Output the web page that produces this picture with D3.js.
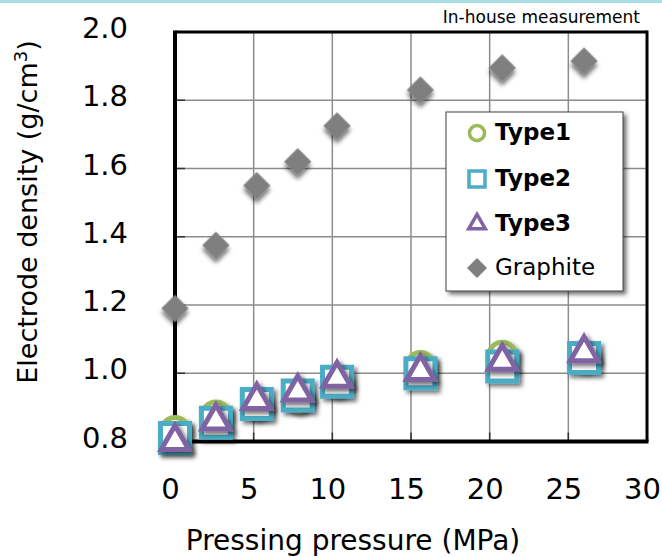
<!DOCTYPE html>
<html>
<head>
<meta charset="utf-8">
<script src="https://cdn.jsdelivr.net/npm/d3@7"></script>
<style>
  body { margin: 0; background: #fff; }
  svg { display: block; font-family: "DejaVu Sans", Verdana, sans-serif; }
</style>
</head>
<body>
<div id="chart"></div>
<script>
// pressing pressure (MPa) and electrode density (g/cm3)
const pressure = [0, 2.6, 5.2, 7.8, 10.3, 15.6, 20.8, 26.0];
const graphite = [1.19, 1.375, 1.55, 1.62, 1.725, 1.83, 1.895, 1.915];
const type1 = [0.83, 0.875, 0.91, 0.93, 0.975, 1.02, 1.05, 1.05];
const type2 = [0.81, 0.855, 0.91, 0.935, 0.975, 1.0, 1.02, 1.045];
const type3 = [0.80, 0.86, 0.92, 0.945, 0.985, 1.005, 1.035, 1.06];

const xTicks = [0, 5, 10, 15, 20, 25, 30];
const yTicks = [0.8, 1.0, 1.2, 1.4, 1.6, 1.8, 2.0];
const legendNames = ["Type1", "Type2", "Type3", "Graphite"];

const width = 662, height = 557;
const margin = { top: 32, right: 15, bottom: 115.5, left: 175 };

const svg = d3.select("#chart").append("svg")
  .attr("width", width)
  .attr("height", height);

// drop shadow for markers and legend
const defs = svg.append("defs");
const shadow = defs.append("filter").attr("id", "shadow")
  .attr("x", "-50%").attr("y", "-50%").attr("width", "200%").attr("height", "200%");
shadow.append("feDropShadow")
  .attr("dx", 3).attr("dy", 3).attr("stdDeviation", 2.2)
  .attr("flood-color", "#000").attr("flood-opacity", 0.55);

// thin teal strip at the very top
svg.append("rect")
  .attr("x", 0).attr("y", 0).attr("width", width).attr("height", 3)
  .attr("fill", "#a8dfe0");

const x = d3.scaleLinear().domain([0, 30]).range([margin.left, width - margin.right]);
const y = d3.scaleLinear().domain([0.8, 2.0]).range([height - margin.bottom, margin.top]);

// grid
const grid = svg.append("g");
grid.selectAll(".vx").data(xTicks.slice(1, -1)).join("line")
  .attr("x1", d => x(d)).attr("x2", d => x(d))
  .attr("y1", y(2.0)).attr("y2", y(0.8))
  .attr("stroke", "#8c8c8c").attr("stroke-width", 1.5);
grid.selectAll(".hy").data(yTicks.slice(1, -1)).join("line")
  .attr("x1", x(0)).attr("x2", x(30))
  .attr("y1", d => y(d)).attr("y2", d => y(d))
  .attr("stroke", "#8c8c8c").attr("stroke-width", 1.5);

// short inner ticks
grid.selectAll(".tx").data(xTicks.slice(1, -1)).join("line")
  .attr("x1", d => x(d)).attr("x2", d => x(d))
  .attr("y1", y(0.8)).attr("y2", y(0.8) - 9)
  .attr("stroke", "#333").attr("stroke-width", 1.5);
grid.selectAll(".ty").data(yTicks.slice(1, -1)).join("line")
  .attr("x1", x(0)).attr("x2", x(0) + 10)
  .attr("y1", d => y(d)).attr("y2", d => y(d))
  .attr("stroke", "#333").attr("stroke-width", 1.5);

// frame
svg.append("line").attr("x1", x(0)).attr("x2", x(30)).attr("y1", y(2.0)).attr("y2", y(2.0))
  .attr("stroke", "#000").attr("stroke-width", 3);
svg.append("line").attr("x1", x(30)).attr("x2", x(30)).attr("y1", y(2.0) - 1.5).attr("y2", y(0.8))
  .attr("stroke", "#000").attr("stroke-width", 3);
svg.append("line").attr("x1", x(0)).attr("x2", x(30) + 1.5).attr("y1", y(0.8)).attr("y2", y(0.8))
  .attr("stroke", "#000").attr("stroke-width", 4);
svg.append("line").attr("x1", x(0)).attr("x2", x(0)).attr("y1", y(2.0) - 1.5).attr("y2", y(0.8) + 2)
  .attr("stroke", "#000").attr("stroke-width", 4);

// axes (labels only)
const xAxis = svg.append("g")
  .attr("transform", "translate(0," + y(0.8) + ")")
  .call(d3.axisBottom(x).tickValues(xTicks).tickSize(0).tickFormat(d3.format("d")));
xAxis.select(".domain").remove();
xAxis.selectAll("text")
  .attr("y", 57).attr("dy", 0).attr("dx", -5)
  .attr("font-size", 29).attr("font-family", "DejaVu Sans").attr("fill", "#000");

const yAxis = svg.append("g")
  .attr("transform", "translate(" + x(0) + ",0)")
  .call(d3.axisLeft(y).tickValues(yTicks).tickSize(0).tickFormat(d3.format(".1f")));
yAxis.select(".domain").remove();
yAxis.selectAll("text")
  .attr("x", -47).attr("y", 5.5).attr("dy", 0)
  .attr("font-size", 29).attr("font-family", "DejaVu Sans").attr("fill", "#000");

// axis titles
svg.append("text")
  .attr("x", 353).attr("y", 550)
  .attr("text-anchor", "middle")
  .attr("font-size", 28)
  .text("Pressing pressure (MPa)");

const yTitle = svg.append("text")
  .attr("transform", "translate(37,212) rotate(-90)")
  .attr("text-anchor", "middle")
  .attr("font-size", 27);
yTitle.append("tspan").text("Electrode density (g/cm");
yTitle.append("tspan").attr("font-size", 18).attr("dy", -10).text("3");
yTitle.append("tspan").attr("dy", 10).text(")");

svg.append("text")
  .attr("x", 640).attr("y", 23)
  .attr("text-anchor", "end")
  .attr("font-size", 17)
  .text("In-house measurement");

// markers
const sym = (type, size) => d3.symbol().type(type).size(size)();

const graphiteG = svg.append("g");
graphiteG.selectAll("path").data(pressure).join("path")
  .attr("transform", (d, i) => "translate(" + x(d) + "," + y(graphite[i]) + ") rotate(45)")
  .attr("d", sym(d3.symbolSquare, 370))
  .attr("fill", "#7f7f7f")
  .attr("filter", "url(#shadow)");

const series = [
  { values: type1, type: d3.symbolCircle, size: 600, color: "#9bbb59" },
  { values: type2, type: d3.symbolSquare, size: 841, color: "#4bacc6" },
  { values: type3, type: d3.symbolTriangle, size: 330, color: "#8064a2" }
];

series.forEach(s => {
  svg.append("g").selectAll("path").data(pressure).join("path")
    .attr("transform", (d, i) => "translate(" + x(d) + "," + y(s.values[i]) + ")")
    .attr("d", sym(s.type, s.size))
    .attr("fill", "#fff")
    .attr("stroke", s.color)
    .attr("stroke-width", 5)
    .attr("stroke-linejoin", "miter")
    .attr("filter", "url(#shadow)");
});

// legend
const legend = svg.append("g");
legend.append("rect")
  .attr("x", 446).attr("y", 112).attr("width", 177).attr("height", 179)
  .attr("fill", "#fff").attr("stroke", "#404040").attr("stroke-width", 1)
  .attr("filter", "url(#shadow)");

const legendSyms = [
  { type: d3.symbolCircle, size: 180, color: "#9bbb59", fill: "#fff", rot: 0 },
  { type: d3.symbolSquare, size: 256, color: "#4bacc6", fill: "#fff", rot: 0 },
  { type: d3.symbolTriangle, size: 120, color: "#8064a2", fill: "#fff", rot: 0 },
  { type: d3.symbolSquare, size: 200, color: "none", fill: "#7f7f7f", rot: 45 }
];
const rowY = [133, 179, 224, 268];

legend.selectAll(".ls").data(legendSyms).join("path")
  .attr("transform", (d, i) => "translate(477," + rowY[i] + ") rotate(" + d.rot + ")")
  .attr("d", d => sym(d.type, d.size))
  .attr("fill", d => d.fill)
  .attr("stroke", d => d.color)
  .attr("stroke-width", 3.5);

legend.selectAll(".lt").data(legendNames).join("text")
  .attr("x", 495)
  .attr("y", (d, i) => rowY[i] + 7)
  .attr("font-size", 23)
  .attr("font-weight", (d, i) => i < 3 ? "bold" : "normal")
  .text(d => d);
</script>
</body>
</html>
